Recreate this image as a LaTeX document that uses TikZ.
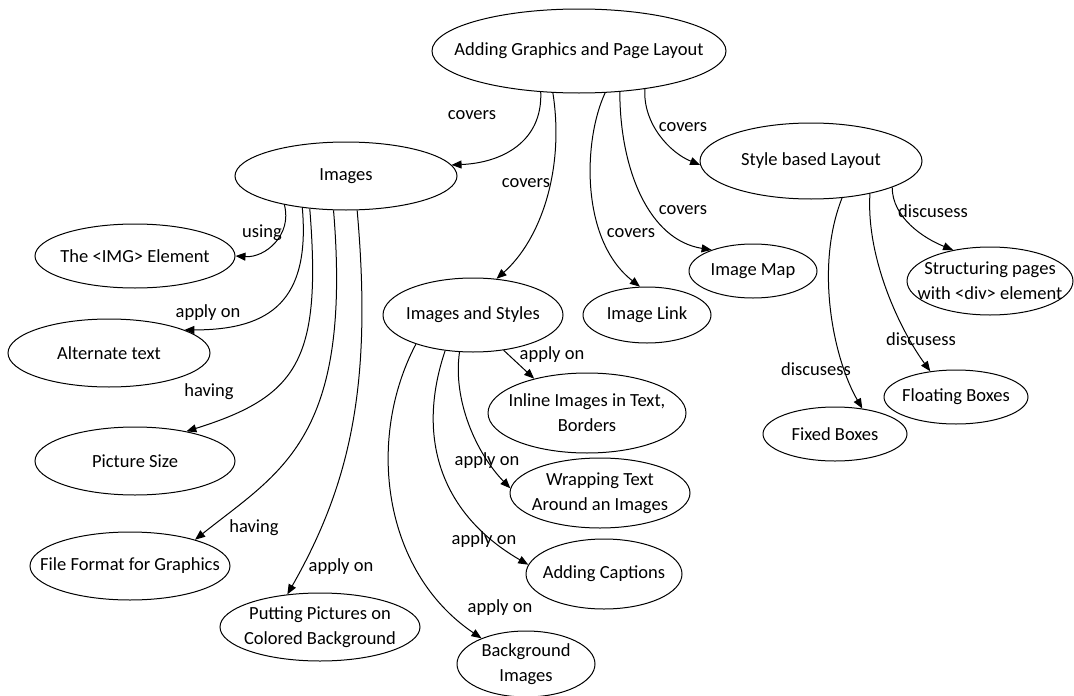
\documentclass[tikz,border=0pt]{standalone}
\usepackage{fontspec}
\setmainfont{Carlito}
\usetikzlibrary{shapes.geometric,arrows.meta}

\begin{document}
\begin{tikzpicture}[x=1pt,y=-1pt,
  every node/.style={font=\fontsize{18.5}{25}\selectfont},
  topic/.style 2 args={ellipse, draw, line width=1pt, minimum width=#1pt,
    minimum height=#2pt, inner sep=0pt},
  txt/.style={align=center, inner sep=0pt},
  lbl/.style={inner sep=0pt},
  link/.style={line width=1pt, -{Triangle[length=10pt,width=8pt]}}]

\useasboundingbox (0,0) rectangle (1074,696);

% concept nodes
\node[topic={294}{84}, label={[txt]center:Adding Graphics and Page Layout}] (root) at (579,51) {};
\node[topic={222}{68}, label={[txt]center:Images}] (images) at (346,176) {};
\node[topic={200}{64}, label={[txt]center:The <IMG> Element}] (img) at (135,256) {};
\node[topic={202}{68}, label={[txt]center:Alternate text}] (alt) at (109,353) {};
\node[topic={200}{68}, label={[txt]center:Picture Size}] (size) at (135,461) {};
\node[topic={200}{68}, label={[txt]center:File Format for Graphics}] (fmt) at (130,566) {};
\node[topic={200}{68}, label={[txt]center:{Putting Pictures on\\Colored Background}}] (put) at (320,627) {};
\node[topic={180}{74}, label={[txt]center:Images and Styles}] (styles) at (473,315) {};
\node[topic={128}{56}, label={[txt]center:Image Link}] (link) at (647,315) {};
\node[topic={128}{54}, label={[txt]center:Image Map}] (map) at (753,271) {};
\node[topic={222}{76}, label={[txt]center:Style based Layout}] (layout) at (811,161) {};
\node[topic={166}{68}, label={[txt]center:{Structuring pages\\with <div> element}}] (struct) at (990,281) {};
\node[topic={144}{54}, label={[txt]center:Floating Boxes}] (float) at (956,397) {};
\node[topic={144}{54}, label={[txt]center:Fixed Boxes}] (fixed) at (835,434) {};
\node[topic={198}{80}, label={[txt]center:{Inline Images in Text,\\Borders}}] (inline) at (587,413) {};
\node[topic={180}{70}, label={[txt]center:{Wrapping Text\\Around an Images}}] (wrap) at (600,493) {};
\node[topic={156}{70}, label={[txt]center:Adding Captions}] (capt) at (604,574) {};
\node[topic={138}{66}, label={[txt]center:{Background\\Images}}] (bg) at (526,664) {};

% connectors from the root
\draw[link] (root.227) .. controls +(2,50) and +(50,-2) .. (images.6);
\draw[link] (root.238) .. controls +(12,77) and +(44,-39) .. (styles.57);
\draw[link] (root.302) .. controls +(-22,47) and +(-60,-47) .. (link.104);
\draw[link] (root.315) .. controls +(0,77) and +(-63,-10) .. (map.153);
\draw[link] (root.330) .. controls +(-2,35) and +(-30,-12) .. (layout.182);

% connectors from Images
\draw[link] (images.205) .. controls +(8,30) and +(30,2) .. (img.0);
\draw[link] (images.216) .. controls +(8,92) and +(87,0) .. (alt.17);
\draw[link] (images.222) .. controls +(12,151) and +(112,-35) .. (size.30);
\draw[link] (images.250) .. controls +(19,229) and +(85,-68) .. (fmt.22);
\draw[link] (images.288) .. controls +(15,170) and +(65,-114) .. (put.135);

% connectors from Images and Styles
\draw[link] (styles.311) -- (inline.147);
\draw[link] (styles.250) .. controls +(-7,48) and +(-34,-35) .. (wrap.177);
\draw[link] (styles.232) .. controls +(-30,89) and +(-86,-50) .. (capt.173);
\draw[link] (styles.207) .. controls +(-50,95) and +(-99,-67) .. (bg.150);

% connectors from Style based Layout
\draw[link] (layout.342) .. controls +(0,30) and +(-30,-12) .. (struct.140);
\draw[link] (layout.331) .. controls +(-4,65) and +(-30,-41) .. (float.135);
\draw[link] (layout.310) .. controls +(-28,71) and +(-28,-48) .. (fixed.43);

% connector labels
\node[lbl] (c1) at (472,115) {covers};
\node[lbl] (c2) at (526,183) {covers};
\node[lbl] (c3) at (631,233) {covers};
\node[lbl] (c4) at (683,210) {covers};
\node[lbl] (c5) at (683,127) {covers};
\node[lbl] (u1) at (262,233) {using};
\node[lbl] (a1) at (208,313) {apply on};
\node[lbl] (h1) at (209,392) {having};
\node[lbl] (h2) at (254,528) {having};
\node[lbl] (a2) at (341,567) {apply on};
\node[lbl] (a3) at (552,355) {apply on};
\node[lbl] (a4) at (487,461) {apply on};
\node[lbl] (a5) at (484,540) {apply on};
\node[lbl] (a6) at (500,608) {apply on};
\node[lbl] (d1) at (933,211) {discusess};
\node[lbl] (d2) at (921,339) {discusess};
\node[lbl] (d3) at (816,369) {discusess};

\end{tikzpicture}
\end{document}
